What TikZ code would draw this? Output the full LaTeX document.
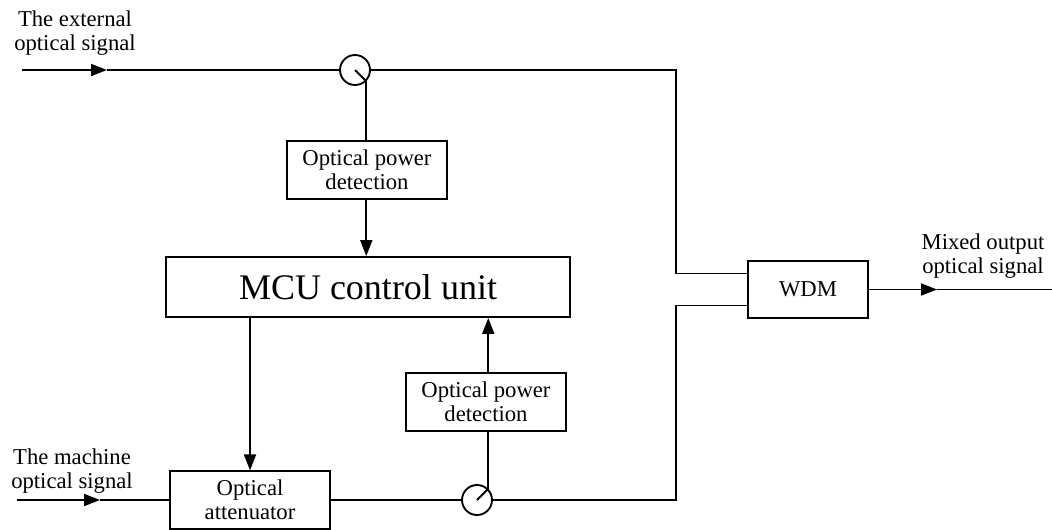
\documentclass[tikz,border=0pt]{standalone}
\usepackage{fontspec}
\setmainfont{Liberation Serif}
\usetikzlibrary{arrows.meta}

\begin{document}
\begin{tikzpicture}[
  x=0.75pt, y=-0.75pt,
  font=\fontsize{17}{18}\selectfont,
  line width=1.4pt,
  blk/.style={draw, minimum width=120pt, minimum height=43.5pt, align=center, inner sep=2pt},
  tap/.style={draw, circle, minimum size=22.5pt, inner sep=0pt},
  lbl/.style={align=center, inner sep=0pt},
  arr/.style={-{Triangle[length=12pt,width=9pt]}}
]
\useasboundingbox (0,0) rectangle (1052,529);

% blocks
\node[blk] (det1) at (367,170) {Optical power\\detection};
\node[blk, minimum width=303pt, minimum height=45pt, font=\fontsize{27}{30}\selectfont] (mcu) at (368,287) {MCU control unit};
\node[blk] (det2) at (486,402) {Optical power\\detection};
\node[blk, minimum height=43pt] (att) at (250,500) {Optical\\attenuator};
\node[blk, minimum width=90pt, minimum height=43pt] (wdm) at (808,289.5) {WDM};

% couplers
\node[tap] (tap1) at (355,70) {};
\node[tap] (tap2) at (477,500) {};

% labels
\node[lbl] (lin1) at (75,33) {The external\\optical signal};
\node[lbl] (lin2) at (72,471) {The machine\\optical signal};
\node[lbl] (lout) at (983,256) {Mixed output\\optical signal};

% free ends
\coordinate (in1) at (22,70);
\coordinate (in1m) at (107,70);
\coordinate (in2) at (17,500);
\coordinate (in2m) at (100,500);
\coordinate (bus) at (676,0);
\coordinate (w1) at ([yshift=12pt]wdm.west);
\coordinate (w2) at ([yshift=-12pt]wdm.west);
\coordinate (outm) at (937,289.5);
\coordinate (out) at (1052,289.5);

% external path
\draw[arr] (in1) -- (in1m);
\draw (in1m) -- (tap1.west);
\draw (tap1.east) -| (bus |- w1) -- (w1);
\draw (tap1.center) -- (tap1.-45);
\draw (tap1.-45) -- (tap1.-45 |- det1.north);
\draw[arr] (tap1.-45 |- det1.south) -- (tap1.-45 |- mcu.north);

% machine path
\draw[arr] (in2) -- (in2m);
\draw (in2m) -- (att.west);
\draw (att.east) -- (tap2.west);
\draw (tap2.east) -| (bus |- w2) -- (w2);
\draw (tap2.center) -- (tap2.45);
\draw (tap2.45) -- (tap2.45 |- det2.south);
\draw[arr] (tap2.45 |- det2.north) -- (tap2.45 |- mcu.south);
\draw[arr] (att.north |- mcu.south) -- (att.north);

% output
\draw[arr] (wdm.east) -- (outm);
\draw (outm) -- (out);
\end{tikzpicture}
\end{document}
